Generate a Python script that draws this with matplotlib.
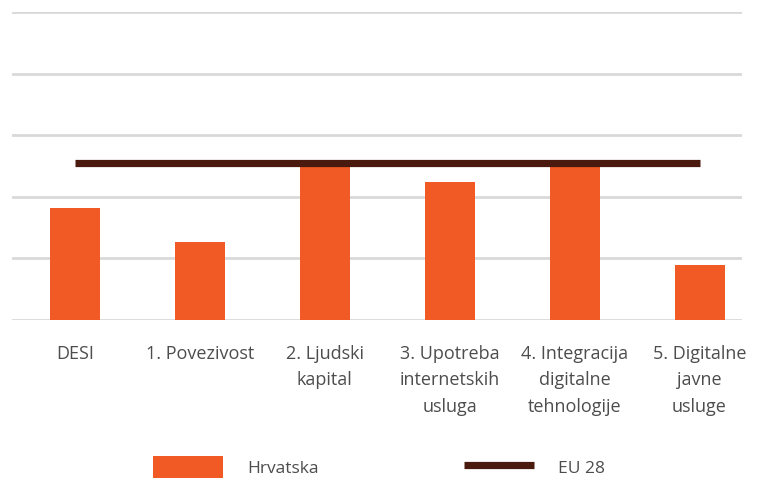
import numpy as np
import matplotlib
matplotlib.use("Agg")
import matplotlib.pyplot as plt

categories = ["DESI", "1. Povezivost", "2. Ljudski\nkapital", "3. Upotreba\ninternetskih\nusluga",
              "4. Integracija\ndigitalne\ntehnologije", "5. Digitalne\njavne\nusluge"]
hrvatska = [18.2, 12.7, 25.3, 22.4, 25.3, 8.9]
eu28 = [25.5, 25.5, 25.5, 25.5, 25.5, 25.5]

orange = "#F15A24"
brown = "#4B1A0F"
textc = "#4D4D4D"

plt.rcParams["font.family"] = ["Open Sans", "DejaVu Sans"]

fig = plt.figure(figsize=(7.58, 4.84), dpi=100)
ax = fig.add_axes([12 / 758, 164 / 484, 730 / 758, 308 / 484])

x = np.arange(len(categories))
bars = ax.bar(x, hrvatska, width=0.4, color=orange, zorder=2, label="Hrvatska")
line, = ax.plot(x, eu28, color=brown, lw=5.2, solid_capstyle="butt", zorder=3, label="EU 28")

ax.set_xlim(-0.505, 5.34)
ax.set_ylim(0, 50)
ax.set_yticks(np.arange(0, 51, 10))
ax.set_yticklabels([])
ax.yaxis.grid(True, color="#D9D9D9", lw=2)
ax.set_axisbelow(True)
ax.tick_params(axis="both", length=0)
for s in ax.spines.values():
    s.set_visible(False)

ax.set_xticks(x)
ax.set_xticklabels(categories, fontsize=13, color=textc, linespacing=1.6, va="top")
ax.tick_params(axis="x", pad=18)

fig.legend(handles=[bars, line], labels=["Hrvatska", "EU 28"],
           loc="center", bbox_to_anchor=(0.5, 17 / 484), ncol=2, frameon=False,
           fontsize=12.5, labelcolor=textc, handlelength=4.0, handleheight=1.5,
           handletextpad=1.4, columnspacing=8.4)

fig.savefig("out.png", dpi=100)
